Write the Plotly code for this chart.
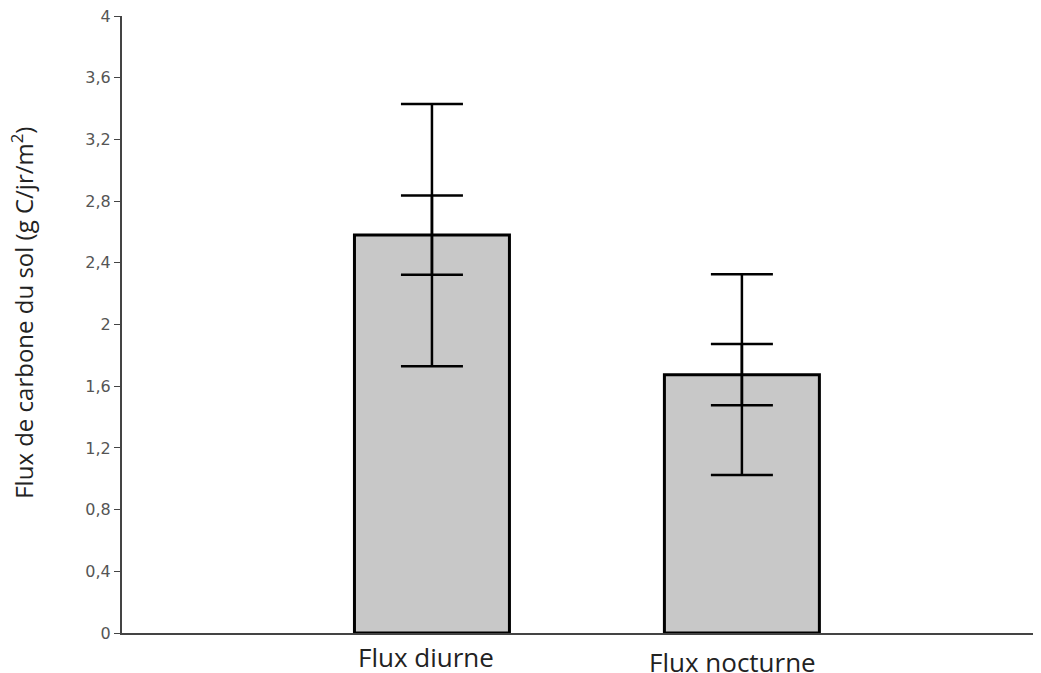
import plotly.graph_objects as go

categories = ["Flux diurne", "Flux nocturne"]
values = [2.58, 1.675]
err_outer = [0.85, 0.65]
err_inner = [0.257, 0.198]
y_ticks = [0, 0.4, 0.8, 1.2, 1.6, 2, 2.4, 2.8, 3.2, 3.6, 4]
y_tick_labels = ["0", "0,4", "0,8", "1,2", "1,6", "2", "2,4", "2,8", "3,2", "3,6", "4"]
y_title = "Flux de carbone du sol (g C/jr/m<sup>2</sup>)"
label_yshift = [-4, -9]
label_xshift = [-6, -9]

xpos = list(range(len(categories)))

fig = go.Figure()
fig.add_trace(go.Bar(
    x=xpos, y=values, width=0.5,
    marker=dict(color="#c8c8c8", line=dict(color="black", width=3)),
    error_y=dict(type="data", array=err_outer, visible=True,
                 color="black", thickness=2.5, width=31),
    hoverinfo="skip", showlegend=False,
))
fig.add_trace(go.Scatter(
    x=xpos, y=values, mode="markers",
    marker=dict(size=1, opacity=0),
    error_y=dict(type="data", array=err_inner, visible=True,
                 color="black", thickness=2.5, width=31),
    hoverinfo="skip", showlegend=False,
))

for xi, name, ys, xs in zip(xpos, categories, label_yshift, label_xshift):
    fig.add_annotation(x=xi, y=0, xref="x", yref="paper", text=name,
                       showarrow=False, yanchor="top", yshift=ys, xshift=xs,
                       font=dict(family="Open Sans", size=26, color="#222"))

fig.add_annotation(x=0, y=0.519, xref="paper", yref="paper", text=y_title,
                   textangle=-90, showarrow=False, xanchor="center",
                   yanchor="middle", xshift=-99,
                   font=dict(family="Open Sans", size=24, color="#222"))

fig.update_layout(
    width=1033, height=665,
    margin=dict(l=114, r=0, t=8, b=40),
    paper_bgcolor="white", plot_bgcolor="white",
    xaxis=dict(range=[-1, 1.965], showticklabels=False, showgrid=False,
               zeroline=False, showline=True, linecolor="#444", linewidth=2,
               ticks=""),
    yaxis=dict(range=[0, 4], tickvals=y_ticks, ticktext=y_tick_labels,
               showgrid=False, zeroline=False, showline=True, linecolor="#444",
               linewidth=2, ticks="outside", ticklen=6, tickcolor="#444",
               ticklabeloverflow="allow",
               tickfont=dict(family="DejaVu Sans", size=16, color="#555")),
)

fig.write_html("out.html")
